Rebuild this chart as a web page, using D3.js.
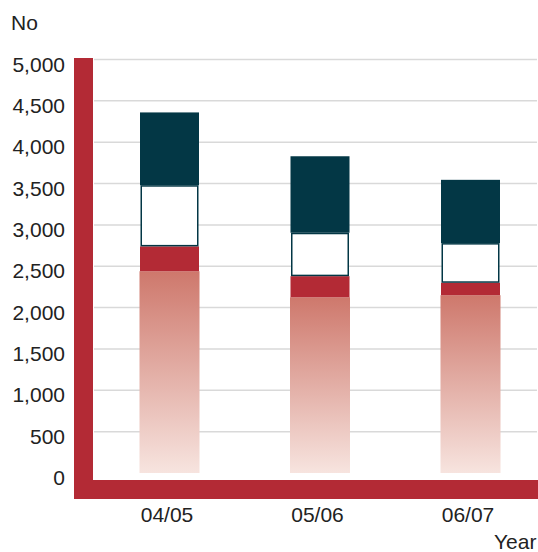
<!DOCTYPE html>
<html>
<head>
<meta charset="utf-8">
<script src="https://cdn.jsdelivr.net/npm/d3@7"></script>
<style>
  body { margin: 0; background: #fff; }
  text { font-family: "Liberation Sans", Arial, sans-serif; fill: #222; }
</style>
</head>
<body>
<svg id="chart"></svg>
<script>
const W = 538, H = 552;

// data
const years = ["04/05", "05/06", "06/07"];
const baseVals  = [2440, 2125, 2150];
const redVals   = [300, 255, 150];
const whiteVals = [740, 525, 480];
const darkVals  = [880, 925, 765];
const yTicks = [0, 500, 1000, 1500, 2000, 2500, 3000, 3500, 4000, 4500, 5000];

var svg = d3.select("#chart").attr("width", W).attr("height", H);

// bar centres
var x = d3.scalePoint().domain(years).range([169.5, 470.5]);
var barW = 59;
var y = d3.scaleLinear().domain([0, 5000]).range([473, 59.5]);

// gradient for base segment
var grad = svg.append("defs").append("linearGradient")
  .attr("id", "baseGrad").attr("x1", 0).attr("y1", 0).attr("x2", 0).attr("y2", 1);
grad.append("stop").attr("offset", "0%").attr("stop-color", "#ce786c");
grad.append("stop").attr("offset", "100%").attr("stop-color", "#f7e4df");

// grid lines
svg.append("g")
  .selectAll("line")
  .data(yTicks.slice(1))
  .enter().append("line")
    .attr("x1", 94).attr("x2", 537)
    .attr("y1", d => y(d)).attr("y2", d => y(d))
    .attr("stroke", "#d9d9d9").attr("stroke-width", 1.5);

// y axis labels
var yAxis = svg.append("g")
  .attr("transform", "translate(65,0)")
  .call(d3.axisLeft(y).tickValues(yTicks).tickSize(0).tickPadding(0).tickFormat(d3.format(",")));
yAxis.select(".domain").remove();
yAxis.selectAll("text")
  .attr("dy", 0).attr("y", 11.5)
  .style("font-size", "21px").attr("fill", "#222")
  .style("font-family", "'Liberation Sans', Arial, sans-serif");

// stacked segments
var rows = years.map((yr, i) => ({ yr: yr, base: baseVals[i], red: redVals[i], white: whiteVals[i], dark: darkVals[i] }));
var stack = d3.stack().keys(["base", "red", "white", "dark"])(rows);
var fills = { base: "url(#baseGrad)", red: "#b32a35", white: "#ffffff", dark: "#033745" };

stack.forEach(function(layer) {
  var key = layer.key;
  var inset = key === "white" ? 1.25 : (key === "base" ? -0.5 : 0);
  svg.append("g")
    .selectAll("rect")
    .data(layer)
    .enter().append("rect")
      .attr("x", d => x(d.data.yr) - barW / 2 + inset)
      .attr("width", barW - 2 * inset)
      .attr("y", d => y(d[1]) + (key === "white" ? 0.75 : 0))
      .attr("height", d => y(d[0]) - y(d[1]) - (key === "white" ? 1.5 : 0))
      .attr("fill", fills[key])
      .attr("stroke", key === "white" ? "#033745" : "none")
      .attr("stroke-width", 1.5);
});

// red L-shaped axis
svg.append("rect").attr("x", 74).attr("y", 58).attr("width", 19).attr("height", 441).attr("fill", "#b32a35");
svg.append("rect").attr("x", 74).attr("y", 480).attr("width", W - 74).attr("height", 19).attr("fill", "#b32a35");

// x axis labels
var xAxis = svg.append("g")
  .attr("transform", "translate(-3,0)")
  .call(d3.axisBottom(x).tickSize(0).tickPadding(0));
xAxis.select(".domain").remove();
xAxis.selectAll("text")
  .attr("dy", 0).attr("y", 521.5)
  .style("font-size", "21px").attr("fill", "#222")
  .style("font-family", "'Liberation Sans', Arial, sans-serif");

// axis titles
svg.append("text").attr("x", 11).attr("y", 30).style("font-size", "21px").text("No");
svg.append("text").attr("x", 494).attr("y", 549).style("font-size", "21px").text("Year");
</script>
</body>
</html>
